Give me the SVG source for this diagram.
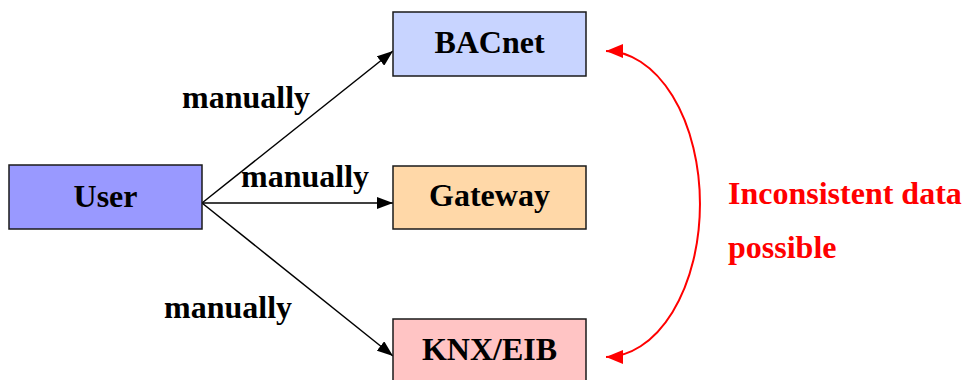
<svg xmlns="http://www.w3.org/2000/svg" width="965" height="380" viewBox="0 0 965 380" font-family="'Liberation Serif', 'Times New Roman', serif">
<defs>
<style>
.box{stroke:#1a1a1a;stroke-width:1.5}
.t{font-weight:bold;font-size:32px;fill:#000}
.red{font-weight:bold;font-size:32px;fill:#ff0000}
.conn{stroke:#000;stroke-width:1.5;fill:none}
.rc{stroke:#ff0000;stroke-width:2;fill:none}
</style>
<marker id="ah" viewBox="0 0 16 12" refX="16" refY="6" markerWidth="16" markerHeight="12" markerUnits="userSpaceOnUse" orient="auto">
<path d="M0,0 L16,6 L0,12 Z" fill="#000"/>
</marker>
<marker id="rh" viewBox="0 0 17 14" refX="17" refY="7" markerWidth="17" markerHeight="14" markerUnits="userSpaceOnUse" orient="auto-start-reverse">
<path d="M0,0 L17,7 L0,14 Z" fill="#ff0000"/>
</marker>
</defs>
<rect width="965" height="380" fill="#fff"/>
<g id="connectors">
<line class="conn" x1="202" y1="203" x2="393" y2="51" marker-end="url(#ah)"/>
<line class="conn" x1="202" y1="203" x2="393" y2="203" marker-end="url(#ah)"/>
<line class="conn" x1="202" y1="203" x2="393" y2="356" marker-end="url(#ah)"/>
<path class="rc" d="M606,51 A94,153 0 0 1 606,357" marker-start="url(#rh)" marker-end="url(#rh)"/>
<text class="t" x="182" y="108">manually</text>
<text class="t" x="241" y="187">manually</text>
<text class="t" x="164" y="318">manually</text>
</g>
<g id="user">
<rect class="box" x="9" y="165" width="193" height="64" fill="#9999ff"/>
<text class="t" x="105.5" y="206.5" text-anchor="middle">User</text>
</g>
<g id="bacnet">
<rect class="box" x="393" y="12" width="193" height="64" fill="#c8d4ff"/>
<text class="t" x="489.5" y="52.5" text-anchor="middle">BACnet</text>
</g>
<g id="gateway">
<rect class="box" x="393" y="166" width="193" height="63" fill="#ffd8a8"/>
<text class="t" x="489.5" y="206" text-anchor="middle">Gateway</text>
</g>
<g id="knx">
<rect class="box" x="393" y="319" width="193" height="70" fill="#ffc4c4"/>
<text class="t" x="489.5" y="360" text-anchor="middle">KNX/EIB</text>
</g>
<g id="note">
<text class="red" x="728" y="204">Inconsistent data</text>
<text class="red" x="728" y="258">possible</text>
</g>
</svg>
